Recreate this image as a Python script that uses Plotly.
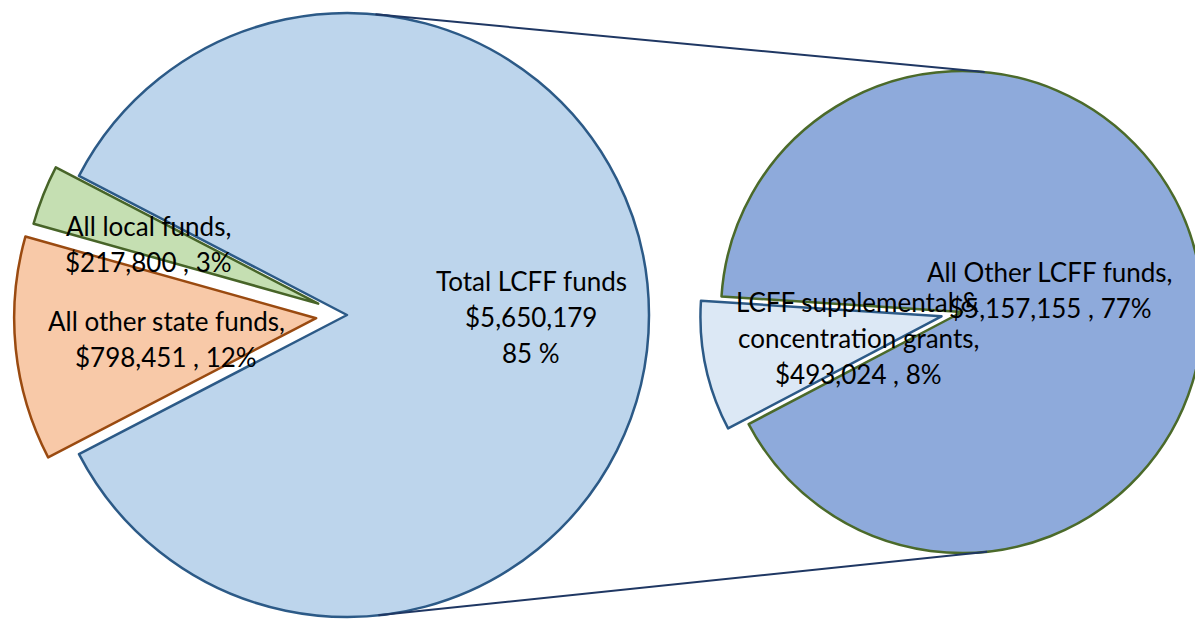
import math
import plotly.graph_objects as go

# ---------------- data ----------------
main_names = ["Total LCFF funds", "All local funds,", "All other state funds,"]
main_values = [5650179, 217800, 798451]
main_pcts = [85, 3, 12]

sub_names = ["All Other LCFF funds,", "LCFF supplemental &<br>concentration grants,"]
sub_values = [5157155, 493024]
sub_pcts = [77, 8]

# ---------------- style / layout ----------------
PAGE_MARGIN = 8          # default <body> margin of the written page
W, H = 1203 - PAGE_MARGIN, 621 - PAGE_MARGIN
FONT = "Lato"
FS = 26
LINE_GAP = 36

main_fill = ["#BDD5EC", "#C5DFB2", "#F8C9A8"]
main_edge = ["#2C5A87", "#476428", "#9A4A10"]
sub_fill = ["#8EAADB", "#DCE8F5"]
sub_edge = ["#4B6A2A", "#2C5A87"]
connector = "#1F3763"

# geometry in screen pixels (page coordinates)
LEFT = dict(cx=347, cy=315, r=302, explode=[0, 31, 31], center_angle=0.0, center_idx=0)
RIGHT = dict(cx=962, cy=312, r=241, explode=[0, 21], center_angle=192.0, center_idx=1)

# label anchor positions (screen px): center x, first-line y
main_lab_pos = [(531, 281), (148, 226), (166, 321)]
sub_lab_pos = [(1050, 272), (858, 302)]


def to_fig(x, y):
    return x - PAGE_MARGIN, y - PAGE_MARGIN


def slice_angles(values, geo):
    tot = float(sum(values))
    spans = [360.0 * v / tot for v in values]
    cum = [sum(spans[:i]) for i in range(len(spans))]
    k = geo["center_idx"]
    start = geo["center_angle"] - (cum[k] + spans[k] / 2.0)
    mids = [start + cum[i] + spans[i] / 2.0 for i in range(len(values))]
    return start, mids, spans


def domain(cx, cy, r):
    r = min(r, cx, W - cx, cy, H - cy)
    x0, x1 = (cx - r) / W, (cx + r) / W
    y0, y1 = 1 - (cy + r) / H, 1 - (cy - r) / H
    return dict(x=[max(0, x0), min(1, x1)], y=[max(0, y0), min(1, y1)])


def add_pie(fig, names, values, fills, edges, geo):
    start, mids, spans = slice_angles(values, geo)
    # plotly (counterclockwise): first slice begins at clockwise angle rotation+span0
    rot = 90.0 - start - spans[0]
    while rot > 360:
        rot -= 360
    while rot < -360:
        rot += 360
    n = len(values)
    gx, gy = to_fig(geo["cx"], geo["cy"])
    for i in range(n):
        d = geo["explode"][i]
        th = math.radians(mids[i])
        cx = gx + d * math.cos(th)
        cy = gy - d * math.sin(th)
        colors = [fills[j] if j == i else "rgba(0,0,0,0)" for j in range(n)]
        lcolors = [edges[j] if j == i else "rgba(0,0,0,0)" for j in range(n)]
        lwidth = [2.5 if j == i else 0 for j in range(n)]
        fig.add_trace(go.Pie(
            labels=[s.replace("<br>", " ") for s in names], values=values,
            sort=False, direction="counterclockwise", rotation=rot,
            marker=dict(colors=colors, line=dict(color=lcolors, width=lwidth)),
            textinfo="none", hoverinfo="label+value+percent", showlegend=False,
            domain=domain(cx, cy, geo["r"]),
        ))


fig = go.Figure()
add_pie(fig, main_names, main_values, main_fill, main_edge, LEFT)
add_pie(fig, sub_names, sub_values, sub_fill, sub_edge, RIGHT)

# connector lines: outer tangents between the two pies
c1x, c1y = to_fig(LEFT["cx"], LEFT["cy"])
c2x, c2y = to_fig(RIGHT["cx"], RIGHT["cy"])
r1, r2 = LEFT["r"], RIGHT["r"]
dx, dy = c2x - c1x, c2y - c1y
dist = math.hypot(dx, dy)
base = math.atan2(dy, dx)
alpha = math.acos((r1 - r2) / dist)
shapes = []
for sgn in (-1, 1):
    a = base + sgn * alpha
    nx, ny = math.cos(a), math.sin(a)
    p1 = (c1x + r1 * nx, c1y + r1 * ny)
    p2 = (c2x + r2 * nx, c2y + r2 * ny)
    shapes.append(dict(type="line", xref="paper", yref="paper",
                       x0=p1[0] / W, y0=1 - p1[1] / H, x1=p2[0] / W, y1=1 - p2[1] / H,
                       line=dict(color=connector, width=2), layer="above"))

# labels
annotations = []


def add_label(lines, pos):
    x, y0 = to_fig(*pos)
    for k, t in enumerate(lines):
        annotations.append(dict(
            x=x / W, y=1 - (y0 + k * LINE_GAP) / H, xref="paper", yref="paper",
            text=t, showarrow=False, xanchor="center", yanchor="middle",
            font=dict(family=FONT, size=FS, color="#000000")))


for i, nm in enumerate(main_names):
    money = "${:,}".format(main_values[i])
    if i == 0:
        lines = [nm, money, "{} %".format(main_pcts[i])]
    else:
        lines = nm.split("<br>") + ["{} , {}%".format(money, main_pcts[i])]
    add_label(lines, main_lab_pos[i])

for i, nm in enumerate(sub_names):
    money = "${:,}".format(sub_values[i])
    lines = nm.split("<br>") + ["{} , {}%".format(money, sub_pcts[i])]
    add_label(lines, sub_lab_pos[i])

fig.update_layout(
    width=W, height=H, margin=dict(l=0, r=0, t=0, b=0),
    paper_bgcolor="white", plot_bgcolor="white",
    shapes=shapes, annotations=annotations,
    font=dict(family=FONT),
)

fig.write_html("out.html")
